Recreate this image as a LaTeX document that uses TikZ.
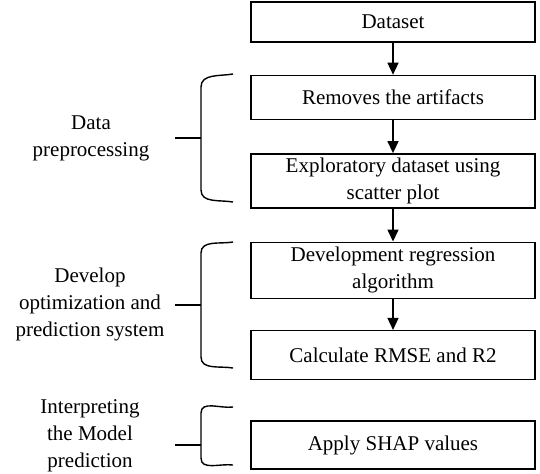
\documentclass[tikz,border=0pt]{standalone}
\usepackage{fontspec}
\setmainfont{Liberation Serif}
\usepackage{tikz}
\usetikzlibrary{positioning,arrows.meta}
\tikzset{
  stepbox/.style={rectangle,draw=black,line width=0.7pt,align=center,minimum width=142pt,minimum height=22pt,inner sep=2pt,font=\fontsize{10.5}{13.5}\selectfont},
  tallbox/.style={stepbox,minimum height=26pt},
  grouptext/.style={align=center,inner sep=0pt,font=\fontsize{10.5}{13.5}\selectfont},
  grpline/.style={line width=0.7pt},
  edge/.style={-{Triangle[length=6pt,width=5.5pt]},line width=0.7pt}
}

\begin{document}
\begin{tikzpicture}[x=1pt,y=1pt,node distance=16pt]
  \useasboundingbox (0,0) rectangle (270,-236.5);
  \node[stepbox,minimum height=20pt] (data) at (196.5,-11) {Dataset};
  \node[stepbox,below=of data] (clean) {Removes the artifacts};
  \node[tallbox,below=16.5pt of clean] (explore) {Exploratory dataset using\\scatter plot};
  \node[tallbox,minimum height=28pt,below=16.5pt of explore] (regress) {Development regression\\algorithm};
  \node[stepbox,minimum height=24.5pt,below=15.5pt of regress] (metric) {Calculate RMSE and R2};
  \node[stepbox,minimum height=24pt,below=20pt of metric] (shap) {Apply SHAP values};
  \draw[edge] (data) -- (clean);
  \draw[edge] (clean) -- (explore);
  \draw[edge] (explore) -- (regress);
  \draw[edge] (regress) -- (metric);
  \node[grouptext] (prep) at (45.5,-69) {Data\\preprocessing};
  \node[grouptext] (optim) at (45,-152) {Develop\\optimization and\\prediction system};
  \node[grouptext] (interp) at (45,-218) {Interpreting\\the Model\\prediction};
  \coordinate (g1) at (100.5,-69);
  \coordinate (g2) at (100.5,-152.5);
  \coordinate (g3) at (100.5,-222.5);
  \draw[grpline] (116.5,-37) to[out=190,in=90] (100.5,-43.5) -- (100.5,-95) to[out=-90,in=170] (116.5,-101);
  \draw[grpline] (116.5,-121) to[out=190,in=90] (100.5,-126.5) -- (100.5,-178.5) to[out=-90,in=170] (116.5,-184);
  \draw[grpline] (116.5,-203.5) to[out=188,in=90] (100.5,-206.5) -- (100.5,-229) to[out=-90,in=172] (116.5,-232.5);
  \draw[grpline] (g1) -- ++(-13,0);
  \draw[grpline] (g2) -- ++(-13,0);
  \draw[grpline] (g3) -- ++(-13,0);
\end{tikzpicture}
\end{document}
